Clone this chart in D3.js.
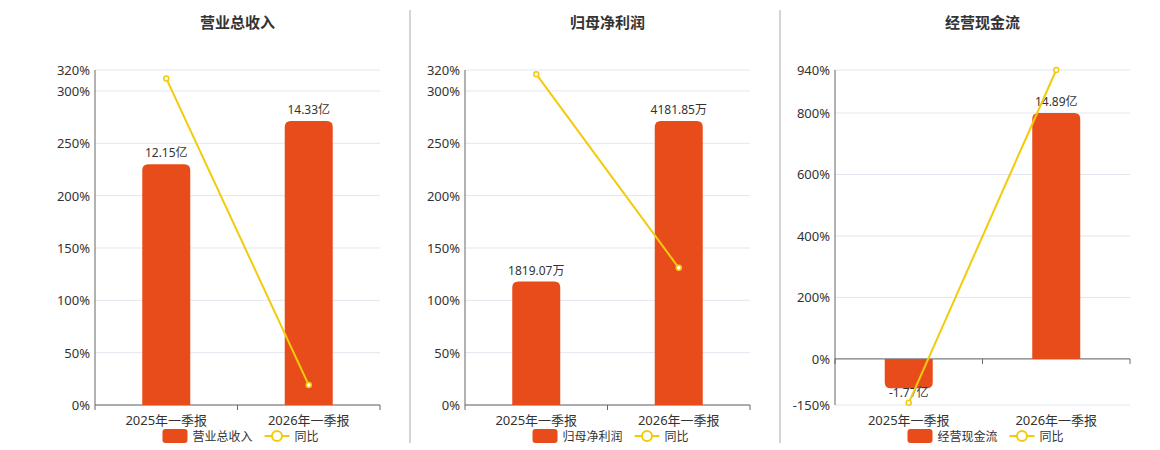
<!DOCTYPE html><html><head><meta charset="utf-8"><script src="https://cdn.jsdelivr.net/npm/d3@7"></script>
<style>body{margin:0;background:#fff;font-family:"Noto Sans","Noto Sans CJK SC",sans-serif}</style></head><body><svg id="c" width="1160" height="450"></svg><script>
const categories=["2025年一季报","2026年一季报"];
const titles=["营业总收入","归母净利润","经营现金流"];
const barNames=["营业总收入","归母净利润","经营现金流"];
const barValues=[[12.15,14.33],[1819.07,4181.85],[-1.77,14.89]];
const barLabels=[["12.15亿","14.33亿"],["1819.07万","4181.85万"],["-1.77亿","14.89亿"]];
const yoyValues=[[312,19],[316,131],[-143,940]];
const yTicks=[[0,50,100,150,200,250,300,320],[0,50,100,150,200,250,300,320],[-150,0,200,400,600,800,940]];
const yDomains=[[0,320],[0,320],[-150,940]];
const barMaxFactor=1.18;
const BAR="#e84c1b",LINE="#f2cb0c";
const svg=d3.select("#c");
const panels=[{x0:95,x1:380},{x0:465,x1:750},{x0:835,x1:1130}];
[410,780].forEach(x=>svg.append("line").attr("x1",x).attr("x2",x).attr("y1",10).attr("y2",443).attr("stroke","#aaa"));
panels.forEach((p,i)=>{
  const g=svg.append("g");
  const top=70,bot=405;
  const y=d3.scaleLinear().domain(yDomains[i]).range([bot,top]);
  const x=d3.scaleBand().domain(categories).range([p.x0,p.x1]);
  const bmax=d3.max(barValues[i])*barMaxFactor;
  const zeroY=y(0);
  const yb=d3.scaleLinear().domain([0,bmax]).range([zeroY,zeroY-(zeroY-top)*(i==2?1.0:1)]);
  const yb2=i==2?d3.scaleLinear().domain([0,d3.max(barValues[i])*1.175]).range([zeroY,top]):yb;
  g.append("text").attr("x",(p.x0+p.x1)/2).attr("y",28).attr("text-anchor","middle").attr("font-size",15).attr("font-weight","bold").attr("fill","#333").text(titles[i]);
  yTicks[i].forEach(t=>{
    g.append("line").attr("x1",p.x0).attr("x2",p.x1).attr("y1",y(t)).attr("y2",y(t)).attr("stroke","#e3e6ef");
    g.append("text").attr("x",p.x0-5).attr("y",y(t)+5).attr("text-anchor","end").attr("font-size",13).attr("fill","#333").text(t+"%");
  });
  g.append("line").attr("x1",p.x0).attr("x2",p.x0).attr("y1",top).attr("y2",bot).attr("stroke","#666");
  g.append("line").attr("x1",p.x0).attr("x2",p.x1).attr("y1",zeroY).attr("y2",zeroY).attr("stroke","#666");
  [p.x0,(p.x0+p.x1)/2,p.x1].forEach(t=>g.append("line").attr("x1",t).attr("x2",t).attr("y1",zeroY).attr("y2",zeroY+5).attr("stroke","#666"));
  categories.forEach(c=>g.append("text").attr("x",x(c)+x.bandwidth()/2).attr("y",425).attr("text-anchor","middle").attr("font-size",13).attr("fill","#333").text(c));
  const bw=48;
  barValues[i].forEach((v,j)=>{
    const cx=x(categories[j])+x.bandwidth()/2;
    const yv=yb2(v);
    const y0=Math.min(yv,zeroY),h=Math.abs(yv-zeroY);
    const r=Math.min(6,h/2);
    // rounded on far end
    let path;
    if(v>=0) path=`M${cx-bw/2},${zeroY}V${y0+r}Q${cx-bw/2},${y0} ${cx-bw/2+r},${y0}H${cx+bw/2-r}Q${cx+bw/2},${y0} ${cx+bw/2},${y0+r}V${zeroY}Z`;
    else {const yb_=zeroY+h;path=`M${cx-bw/2},${zeroY}V${yb_-r}Q${cx-bw/2},${yb_} ${cx-bw/2+r},${yb_}H${cx+bw/2-r}Q${cx+bw/2},${yb_} ${cx+bw/2},${yb_-r}V${zeroY}Z`;}
    g.append("path").attr("d",path).attr("fill",BAR);
    g.append("text").attr("x",cx).attr("y",v>=0?yv-7:yv+9).attr("text-anchor","middle").attr("font-size",12).attr("fill","#333").text(barLabels[i][j]);
  });
  const pts=yoyValues[i].map((v,j)=>[x(categories[j])+x.bandwidth()/2,y(v)]);
  g.append("path").attr("d",d3.line()(pts)).attr("stroke",LINE).attr("stroke-width",2).attr("fill","none");
  pts.forEach(q=>g.append("circle").attr("cx",q[0]).attr("cy",q[1]).attr("r",2.5).attr("fill","#fff").attr("stroke",LINE).attr("stroke-width",1.5));
  // legend
  const lx=(p.x0+p.x1)/2-75;
  g.append("rect").attr("x",lx).attr("y",429).attr("width",25).attr("height",14).attr("rx",3).attr("fill",BAR);
  g.append("text").attr("x",lx+30).attr("y",441).attr("font-size",12).attr("fill","#333").text(barNames[i]);
  const lx2=lx+102;
  g.append("line").attr("x1",lx2).attr("x2",lx2+25).attr("y1",436).attr("y2",436).attr("stroke",LINE).attr("stroke-width",2);
  g.append("circle").attr("cx",lx2+12.5).attr("cy",436).attr("r",5).attr("fill","#fff").attr("stroke",LINE).attr("stroke-width",2);
  g.append("text").attr("x",lx2+30).attr("y",441).attr("font-size",12).attr("fill","#333").text("同比");
});
</script></body></html>
